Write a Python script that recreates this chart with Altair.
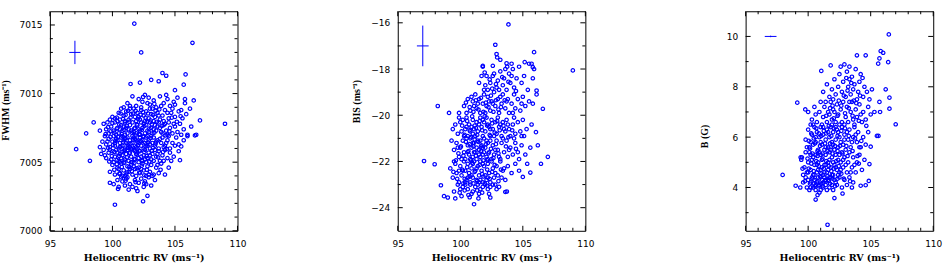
import altair as alt
import pandas as pd

# ---------------------------------------------------------------------------
# Heliocentric RV against FWHM, bisector span (BIS) and magnetic field B
# ---------------------------------------------------------------------------

# (RV, FWHM) pairs, m/s
rv_fwhm = [
    (101.75, 7015.1), (102.3, 7013.0), (106.4, 7013.7), (109.0, 7007.8), (97.1, 7005.95),
    (97.9, 7007.1), (98.2, 7005.1), (100.2, 7001.9), (102.45, 7002.15), (102.8, 7002.55),
    (107.0, 7008.05), (105.85, 7011.4), (104.0, 7011.5), (104.3, 7011.3), (103.1, 7011.0),
    (103.7, 7010.9), (102.2, 7010.8), (101.45, 7010.7), (105.0, 7010.25), (105.7, 7010.65),
    (105.4, 7005.15), (106.6, 7006.95), (106.7, 7007.0), (105.5, 7006.15), (105.8, 7009.3),
    (101.2, 7009.3), (101.6, 7009.8), (101.9, 7009.1), (102.1, 7009.6), (102.4, 7009.4),
    (102.6, 7009.9), (102.9, 7009.7), (103.0, 7009.2), (103.3, 7009.5), (103.5, 7009.0),
    (103.8, 7009.8), (104.1, 7009.3), (104.4, 7009.6), (104.6, 7009.1), (104.9, 7009.4),
    (105.2, 7009.7), (105.8, 7009.6), (106.5, 7009.5), (100.9, 7009.0), (101.4, 7009.1),
    (102.8, 7009.3), (103.9, 7009.1), (104.3, 7009.9), (105.0, 7009.2), (102.3, 7009.0),
    (100.2, 7008.2), (100.5, 7008.6), (100.7, 7008.9), (100.9, 7008.4), (101.1, 7008.7),
    (101.3, 7008.1), (101.5, 7008.5), (101.7, 7008.9), (101.8, 7008.3), (102.0, 7008.6),
    (102.2, 7008.1), (102.3, 7008.8), (102.5, 7008.4), (102.7, 7008.7), (102.9, 7008.2),
    (103.1, 7008.5), (103.2, 7008.9), (103.4, 7008.3), (103.6, 7008.6), (103.8, 7008.1),
    (104.0, 7008.4), (104.2, 7008.8), (104.5, 7008.2), (104.7, 7008.6), (105.0, 7008.3),
    (105.3, 7008.7), (105.6, 7008.2), (105.9, 7008.5), (106.2, 7008.9), (100.4, 7008.0),
    (100.0, 7008.3), (101.0, 7008.0), (101.9, 7008.0), (102.6, 7008.0), (103.3, 7008.0),
    (104.1, 7008.0), (104.8, 7008.9), (99.8, 7008.1), (105.5, 7008.8), (103.0, 7008.9),
    (101.4, 7008.9), (102.1, 7008.3), (103.7, 7008.4), (104.4, 7008.6), (100.6, 7008.1),
    (98.5, 7007.9), (99.3, 7007.8), (99.5, 7007.4), (99.7, 7007.1), (99.9, 7007.6),
    (100.1, 7007.3), (100.2, 7007.9), (100.4, 7007.5), (100.5, 7007.1), (100.7, 7007.7),
    (100.8, 7007.3), (101.0, 7007.9), (101.1, 7007.5), (101.2, 7007.1), (101.4, 7007.7),
    (101.5, 7007.3), (101.6, 7007.9), (101.8, 7007.5), (101.9, 7007.1), (102.0, 7007.7),
    (102.2, 7007.3), (102.3, 7007.9), (102.4, 7007.5), (102.6, 7007.1), (102.7, 7007.7),
    (102.8, 7007.3), (103.0, 7007.9), (103.1, 7007.5), (103.2, 7007.1), (103.4, 7007.7),
    (103.5, 7007.3), (103.7, 7007.9), (103.8, 7007.5), (104.0, 7007.1), (104.1, 7007.7),
    (104.3, 7007.3), (104.5, 7007.9), (104.6, 7007.5), (104.8, 7007.1), (105.0, 7007.6),
    (105.2, 7007.2), (105.4, 7007.8), (105.7, 7007.4), (106.0, 7007.0), (106.3, 7007.6),
    (100.3, 7007.0), (100.9, 7007.6), (101.3, 7007.4), (101.7, 7007.2), (102.1, 7007.4),
    (102.5, 7007.8), (102.9, 7007.2), (103.3, 7007.4), (103.6, 7007.6), (103.9, 7007.2),
    (104.2, 7007.8), (104.4, 7007.0), (104.9, 7007.8), (105.5, 7007.0), (99.0, 7007.3),
    (99.6, 7007.9), (100.6, 7007.4), (101.0, 7007.0), (102.2, 7007.0),
    (99.0, 7006.1), (99.2, 7006.5), (99.4, 7006.9), (99.5, 7006.3), (99.7, 7006.7),
    (99.8, 7006.1), (100.0, 7006.5), (100.1, 7006.9), (100.2, 7006.2), (100.4, 7006.6),
    (100.5, 7006.0), (100.6, 7006.4), (100.7, 7006.8), (100.8, 7006.2), (100.9, 7006.6),
    (101.0, 7006.0), (101.1, 7006.4), (101.2, 7006.8), (101.3, 7006.2), (101.4, 7006.6),
    (101.5, 7006.0), (101.6, 7006.4), (101.7, 7006.8), (101.8, 7006.2), (101.9, 7006.6),
    (102.0, 7006.0), (102.1, 7006.4), (102.2, 7006.8), (102.3, 7006.2), (102.4, 7006.6),
    (102.5, 7006.0), (102.6, 7006.4), (102.7, 7006.8), (102.8, 7006.2), (102.9, 7006.6),
    (103.0, 7006.0), (103.2, 7006.4), (103.3, 7006.8), (103.4, 7006.2), (103.6, 7006.6),
    (103.7, 7006.0), (103.9, 7006.4), (104.0, 7006.8), (104.2, 7006.2), (104.4, 7006.6),
    (104.6, 7006.0), (104.8, 7006.4), (105.1, 7006.8), (105.3, 7006.3), (105.7, 7006.6),
    (106.0, 7006.9), (100.3, 7006.7), (100.8, 7006.9), (101.2, 7006.3), (101.6, 7006.9),
    (101.9, 7006.1), (102.3, 7006.5), (102.7, 7006.3), (103.1, 7006.9), (103.5, 7006.5),
    (104.1, 7006.1), (104.5, 7006.9), (99.6, 7006.5), (100.6, 7006.1), (101.4, 7006.1),
    (102.0, 7006.5), (102.8, 7006.9), (103.8, 7006.7), (101.0, 7006.7), (101.8, 7006.7),
    (102.5, 7006.9), (100.2, 7006.4), (103.0, 7006.3), (104.3, 7006.4), (105.0, 7006.2),
    (99.1, 7005.6), (99.3, 7005.9), (99.5, 7005.3), (99.7, 7005.7), (99.9, 7005.2),
    (100.0, 7005.8), (100.2, 7005.4), (100.3, 7005.9), (100.5, 7005.1), (100.6, 7005.6),
    (100.7, 7005.3), (100.9, 7005.8), (101.0, 7005.2), (101.1, 7005.6), (101.3, 7005.1),
    (101.4, 7005.7), (101.5, 7005.4), (101.7, 7005.9), (101.8, 7005.2), (101.9, 7005.6),
    (102.1, 7005.3), (102.2, 7005.8), (102.4, 7005.1), (102.5, 7005.5), (102.6, 7005.9),
    (102.8, 7005.3), (102.9, 7005.7), (103.1, 7005.2), (103.2, 7005.6), (103.4, 7005.9),
    (103.5, 7005.4), (103.7, 7005.8), (103.8, 7005.1), (104.0, 7005.5), (104.2, 7005.9),
    (104.4, 7005.3), (104.6, 7005.7), (104.9, 7005.4), (105.3, 7005.8), (100.1, 7005.0),
    (100.8, 7005.5), (101.2, 7005.9), (101.6, 7005.0), (102.0, 7005.7), (102.3, 7005.4),
    (102.7, 7005.0), (103.0, 7005.5), (103.3, 7005.1), (103.6, 7005.6), (104.1, 7005.1),
    (99.4, 7005.5), (99.8, 7005.9), (100.4, 7005.7), (101.0, 7005.9), (101.8, 7005.8),
    (102.6, 7005.2), (101.5, 7005.0), (100.6, 7005.0), (104.7, 7005.1), (102.1, 7005.0),
    (99.8, 7004.3), (100.0, 7004.8), (100.2, 7004.1), (100.4, 7004.6), (100.6, 7004.2),
    (100.7, 7004.9), (100.9, 7004.4), (101.0, 7004.0), (101.2, 7004.7), (101.3, 7004.3),
    (101.5, 7004.8), (101.6, 7004.1), (101.8, 7004.5), (101.9, 7004.0), (102.1, 7004.6),
    (102.2, 7004.2), (102.4, 7004.9), (102.5, 7004.4), (102.7, 7004.0), (102.8, 7004.7),
    (103.0, 7004.3), (103.1, 7004.8), (103.3, 7004.1), (103.5, 7004.6), (103.7, 7004.2),
    (103.9, 7004.9), (104.2, 7004.1), (104.5, 7004.6), (100.5, 7004.5), (101.1, 7004.1),
    (101.7, 7004.7), (102.3, 7004.5), (102.9, 7004.1), (103.6, 7004.8), (100.8, 7004.0),
    (101.4, 7004.5),
    (99.8, 7003.5), (100.1, 7003.4), (100.4, 7003.7), (100.5, 7003.2), (100.8, 7003.6),
    (101.0, 7003.3), (101.2, 7003.9), (101.4, 7003.4), (101.6, 7003.2), (101.8, 7003.7),
    (101.9, 7003.1), (102.1, 7003.5), (102.3, 7003.8), (102.5, 7003.2), (102.6, 7003.6),
    (102.9, 7003.9), (103.1, 7003.3), (103.4, 7003.7), (101.1, 7003.8), (100.7, 7003.9),
    (102.7, 7003.4), (103.2, 7004.0), (102.0, 7002.9), (101.3, 7003.0),
    (100.15, 7007.15), (100.35, 7007.45), (100.55, 7007.75), (100.75, 7007.05), (100.95, 7007.35),
    (101.15, 7007.65), (101.35, 7007.95), (101.55, 7007.15), (101.75, 7007.45), (101.95, 7007.75),
    (102.15, 7007.05), (102.35, 7007.35), (102.55, 7007.65), (102.75, 7007.95), (102.95, 7007.45),
    (103.15, 7007.75), (103.35, 7007.15), (103.55, 7007.95), (100.05, 7006.25), (100.25, 7006.55),
    (100.45, 7006.85), (100.65, 7006.15), (100.85, 7006.45), (101.05, 7006.75), (101.25, 7006.05),
    (101.45, 7006.35), (101.65, 7006.65), (101.85, 7006.95), (102.05, 7006.25), (102.25, 7006.55),
    (102.45, 7006.85), (102.65, 7006.15), (102.85, 7006.45), (103.05, 7006.75), (103.25, 7006.05),
    (103.45, 7006.35), (99.85, 7006.85), (99.65, 7006.05), (99.95, 7005.45), (100.15, 7005.75),
    (100.35, 7005.15), (100.55, 7005.45), (100.75, 7005.75), (100.95, 7005.05), (101.15, 7005.35),
    (101.35, 7005.65), (101.55, 7005.95), (101.75, 7005.25), (101.95, 7005.55), (102.15, 7005.85),
    (102.35, 7005.15), (102.55, 7005.75), (102.75, 7005.45), (102.95, 7005.05), (103.15, 7005.85),
    (99.75, 7005.05), (100.15, 7004.45), (100.35, 7004.85), (100.55, 7004.15), (100.75, 7004.65),
    (100.95, 7004.95), (101.15, 7004.25), (101.35, 7004.65), (101.55, 7004.35), (101.75, 7004.95),
    (101.95, 7004.55), (102.15, 7004.25), (102.35, 7004.75), (102.55, 7004.05), (102.75, 7004.45),
    (100.35, 7008.25), (100.65, 7008.55), (100.85, 7008.15), (101.05, 7008.45), (101.25, 7008.75),
    (101.45, 7008.25), (101.65, 7008.55), (101.85, 7008.75), (102.05, 7008.15), (102.25, 7008.45),
    (102.45, 7008.65), (102.65, 7008.25), (102.85, 7008.55), (103.05, 7008.05), (103.25, 7008.45),
    (103.45, 7008.75), (103.75, 7008.85), (99.45, 7007.05), (99.65, 7007.55), (99.85, 7007.25),
    (100.0, 7007.85), (104.25, 7006.95), (104.55, 7007.25), (104.05, 7005.75), (104.35, 7005.95),
    (103.65, 7005.35), (103.85, 7004.45), (102.55, 7003.45), (101.85, 7003.55), (101.05, 7003.65),
    (100.45, 7003.05), (103.95, 7007.65), (104.75, 7008.25), (105.15, 7007.95), (105.45, 7008.35),
    (103.35, 7009.25), (102.45, 7009.75),
]

# (RV, BIS) pairs, m/s
rv_bis = [
    (103.85, -16.07), (102.8, -16.95), (102.9, -17.35), (102.95, -17.5), (105.9, -17.27),
    (109.0, -18.06), (98.2, -19.6), (99.1, -19.9), (97.1, -21.98), (97.95, -22.12),
    (98.45, -23.03), (101.1, -23.85), (101.45, -23.6), (100.75, -23.55), (102.4, -23.56),
    (103.6, -23.32), (103.72, -23.3), (98.7, -23.5), (99.0, -23.56), (107.0, -21.8),
    (106.45, -22.1), (106.05, -20.73), (106.6, -19.72), (105.6, -22.48), (105.0, -22.67),
    (105.35, -22.1), (106.1, -18.93), (105.15, -17.7), (105.5, -17.77), (105.7, -17.77),
    (105.8, -17.92), (103.7, -17.75), (103.75, -17.9), (104.1, -17.77), (102.6, -17.86),
    (103.2, -17.6), (101.8, -17.86),
    (101.8, -17.9), (102.1, -18.3), (102.4, -18.6), (102.7, -18.2), (102.9, -18.8),
    (103.0, -18.5), (103.2, -18.1), (103.4, -18.7), (103.5, -18.4), (103.7, -18.9),
    (103.9, -18.2), (104.0, -18.6), (104.2, -18.0), (104.3, -18.8), (104.5, -18.4),
    (104.7, -17.9), (104.9, -18.6), (105.1, -18.3), (105.4, -18.9), (105.8, -18.4),
    (101.5, -18.6), (101.9, -18.9), (102.2, -18.9), (103.6, -18.0), (102.6, -18.3),
    (105.9, -18.0), (104.1, -18.3), (103.1, -18.9), (101.7, -18.3), (102.0, -18.7),
    (100.3, -19.6), (100.6, -19.3), (100.8, -19.8), (101.0, -19.4), (101.2, -19.1),
    (101.3, -19.7), (101.5, -19.3), (101.6, -19.9), (101.8, -19.5), (101.9, -19.1),
    (102.1, -19.6), (102.2, -19.2), (102.4, -19.8), (102.5, -19.4), (102.7, -19.0),
    (102.8, -19.6), (103.0, -19.3), (103.1, -19.9), (103.3, -19.5), (103.4, -19.1),
    (103.6, -19.7), (103.8, -19.3), (103.9, -19.9), (104.1, -19.5), (104.3, -19.1),
    (104.4, -19.7), (104.6, -19.3), (104.8, -19.8), (105.0, -19.2), (105.2, -19.6),
    (105.5, -19.4), (105.8, -19.5), (106.1, -19.1), (99.9, -19.9), (100.9, -19.2),
    (101.4, -19.5), (102.0, -19.9), (102.6, -19.5), (103.2, -19.2), (103.7, -19.4),
    (104.2, -19.9), (104.9, -19.5), (100.5, -19.9), (101.1, -19.6), (102.3, -19.4),
    (99.6, -20.4), (99.8, -20.8), (100.0, -20.3), (100.1, -20.7), (100.2, -20.2),
    (100.4, -20.6), (100.5, -20.1), (100.6, -20.9), (100.7, -20.4), (100.8, -20.7),
    (101.0, -20.2), (101.1, -20.6), (101.2, -20.9), (101.3, -20.3), (101.4, -20.7),
    (101.6, -20.1), (101.7, -20.5), (101.8, -20.9), (101.9, -20.3), (102.0, -20.7),
    (102.1, -20.1), (102.3, -20.5), (102.4, -20.9), (102.5, -20.2), (102.6, -20.6),
    (102.8, -20.3), (102.9, -20.8), (103.0, -20.1), (103.1, -20.5), (103.3, -20.9),
    (103.4, -20.3), (103.6, -20.7), (103.7, -20.2), (103.9, -20.6), (104.0, -20.9),
    (104.2, -20.4), (104.4, -20.8), (104.6, -20.3), (104.8, -20.7), (105.0, -20.2),
    (105.3, -20.6), (105.7, -20.4), (99.4, -20.6), (99.9, -20.1), (100.3, -20.9),
    (100.9, -20.5), (101.5, -20.4), (102.2, -20.4), (102.7, -20.9), (103.2, -20.4),
    (103.8, -20.4), (104.3, -20.1), (104.9, -20.9), (100.5, -20.5), (101.0, -20.8),
    (101.8, -20.2), (102.4, -20.6), (103.5, -20.6), (105.1, -20.9),
    (99.3, -21.1), (99.5, -21.5), (99.7, -21.2), (99.9, -21.8), (100.0, -21.4),
    (100.2, -21.1), (100.3, -21.6), (100.4, -21.9), (100.6, -21.3), (100.7, -21.7),
    (100.8, -21.0), (100.9, -21.4), (101.0, -21.8), (101.1, -21.2), (101.2, -21.6),
    (101.3, -21.9), (101.4, -21.1), (101.5, -21.5), (101.6, -21.8), (101.7, -21.3),
    (101.8, -21.7), (101.9, -21.0), (102.0, -21.4), (102.1, -21.8), (102.2, -21.2),
    (102.3, -21.6), (102.5, -21.9), (102.6, -21.3), (102.7, -21.7), (102.9, -21.1),
    (103.0, -21.5), (103.2, -21.9), (103.3, -21.2), (103.5, -21.6), (103.7, -21.1),
    (103.8, -21.8), (104.0, -21.4), (104.2, -21.7), (104.4, -21.2), (104.6, -21.6),
    (104.9, -21.3), (105.2, -21.7), (105.6, -21.4), (106.2, -21.3), (100.1, -21.9),
    (100.5, -21.0), (100.8, -21.9), (101.0, -21.2), (101.3, -21.4), (101.6, -21.1),
    (101.9, -21.6), (102.2, -21.9), (102.4, -21.1), (102.8, -21.5), (103.1, -21.8),
    (103.4, -21.0), (103.9, -21.5), (104.3, -21.0), (104.7, -21.9), (101.1, -21.6),
    (101.5, -21.7), (100.6, -21.6), (101.8, -21.4), (102.1, -21.1), (99.8, -21.4),
    (99.2, -22.3), (99.4, -22.7), (99.6, -22.1), (99.7, -22.5), (99.9, -22.9),
    (100.0, -22.2), (100.1, -22.6), (100.3, -22.0), (100.4, -22.4), (100.5, -22.8),
    (100.6, -22.1), (100.7, -22.5), (100.8, -22.9), (100.9, -22.3), (101.0, -22.7),
    (101.1, -22.0), (101.2, -22.4), (101.3, -22.8), (101.4, -22.2), (101.5, -22.6),
    (101.6, -22.0), (101.7, -22.4), (101.8, -22.9), (101.9, -22.2), (102.0, -22.6),
    (102.2, -22.1), (102.3, -22.5), (102.4, -22.9), (102.6, -22.3), (102.7, -22.7),
    (102.9, -22.2), (103.0, -22.6), (103.2, -22.0), (103.4, -22.4), (103.6, -22.8),
    (103.8, -22.2), (104.1, -22.5), (104.4, -22.1), (104.7, -22.4), (99.5, -22.0),
    (100.2, -22.4), (100.6, -22.7), (101.0, -22.1), (101.3, -22.3), (101.6, -22.8),
    (102.1, -22.8), (102.5, -22.0), (102.8, -22.5), (103.3, -22.7), (100.9, -22.6),
    (101.5, -22.9), (100.4, -22.9), (101.8, -22.1), (102.2, -22.7), (99.9, -22.4),
    (103.5, -22.3),
    (99.5, -23.3), (99.8, -23.0), (100.0, -23.2), (100.2, -23.1), (100.4, -23.0),
    (100.6, -23.2), (100.8, -23.0), (101.0, -23.3), (101.2, -23.1), (101.4, -23.0),
    (101.6, -23.2), (101.8, -23.1), (102.0, -23.0), (102.2, -23.2), (102.4, -23.1),
    (102.6, -23.0), (102.9, -23.2), (103.1, -23.1), (99.6, -23.6), (100.9, -23.4),
    (101.5, -23.4), (102.3, -23.4), (100.1, -23.5), (102.8, -23.0),
    (100.15, -22.35), (100.35, -22.75), (100.55, -22.25), (100.75, -22.65), (100.95, -22.05),
    (101.15, -22.45), (101.35, -22.85), (101.55, -22.15), (101.75, -22.55), (101.95, -22.95),
    (102.15, -22.35), (102.35, -22.75), (102.55, -22.45), (100.25, -22.95), (101.05, -22.95),
    (101.85, -22.65), (100.05, -21.35), (100.25, -21.75), (100.45, -21.15), (100.65, -21.55),
    (100.85, -21.95), (101.05, -21.35), (101.25, -21.75), (101.45, -21.15), (101.65, -21.55),
    (101.85, -21.95), (102.05, -21.25), (102.25, -21.65), (102.45, -21.45), (102.65, -21.85),
    (102.85, -21.25), (103.05, -21.65), (101.15, -21.05), (100.75, -21.25), (100.15, -20.45),
    (100.35, -20.85), (100.55, -20.25), (100.75, -20.65), (100.95, -20.05), (101.15, -20.45),
    (101.35, -20.85), (101.55, -20.25), (101.75, -20.65), (101.95, -20.05), (102.15, -20.45),
    (102.35, -20.85), (102.55, -20.35), (102.75, -20.75), (102.95, -20.25), (103.15, -20.65),
    (103.45, -20.45), (100.45, -19.45), (100.75, -19.65), (101.05, -19.85), (101.25, -19.35),
    (101.45, -19.75), (101.65, -19.25), (101.85, -19.85), (102.05, -19.45), (102.25, -19.65),
    (102.45, -19.15), (102.65, -19.85), (102.85, -19.35), (103.05, -19.75), (103.25, -19.65),
    (103.55, -19.35), (99.75, -22.75), (99.85, -21.65), (99.65, -21.95), (99.45, -22.45),
    (99.95, -23.35), (100.35, -23.25), (100.65, -23.45), (101.35, -23.25), (101.75, -23.35),
    (102.15, -23.05), (103.25, -22.35), (103.65, -21.35), (103.85, -20.95), (104.15, -20.65),
    (104.45, -21.45), (102.75, -22.15), (103.05, -22.85), (101.25, -20.55), (100.85, -20.95),
    (101.65, -21.35), (102.15, -21.95), (102.35, -18.45), (102.85, -18.65), (103.35, -18.35),
    (103.85, -18.55), (101.95, -18.15), (104.45, -18.95), (102.55, -18.85),
]

# (RV, B) pairs, m/s and gauss
rv_bfield = [
    (106.45, 10.08), (105.8, 9.42), (106.0, 9.35), (104.6, 9.25), (106.4, 8.98),
    (105.7, 9.13), (105.6, 8.92), (107.0, 6.51), (106.5, 7.57), (106.5, 7.13),
    (106.2, 7.9), (105.7, 7.4), (105.75, 7.0), (105.5, 6.05), (105.62, 6.05),
    (104.9, 4.93), (105.0, 5.62), (104.85, 4.26), (104.6, 4.09), (104.2, 4.07),
    (97.96, 4.5), (99.0, 4.07), (99.37, 4.0), (99.4, 5.2), (99.45, 5.1),
    (99.13, 7.37), (99.77, 7.1), (101.05, 8.63), (101.8, 8.85), (102.9, 8.89),
    (103.9, 9.25), (101.55, 2.52), (102.1, 3.58), (100.6, 3.52), (100.75, 3.7),
    (102.75, 3.76), (103.5, 4.0),
    (101.5, 8.1), (101.7, 7.6), (101.9, 7.9), (102.1, 8.3), (102.2, 7.7),
    (102.4, 8.0), (102.5, 8.5), (102.7, 7.8), (102.8, 8.2), (103.0, 7.6),
    (103.1, 8.6), (103.2, 8.0), (103.3, 8.3), (103.4, 7.7), (103.5, 8.4),
    (103.6, 7.9), (103.7, 8.1), (103.8, 8.7), (104.0, 7.8), (104.1, 8.2),
    (104.2, 8.5), (104.4, 7.6), (104.5, 8.0), (104.7, 7.8), (104.9, 7.5),
    (105.1, 7.9), (102.0, 7.5), (103.9, 7.5), (101.2, 7.8), (102.6, 8.8),
    (103.3, 8.8),
    (100.0, 7.0), (100.3, 6.7), (100.5, 7.2), (100.7, 6.6), (100.9, 7.0),
    (101.0, 7.4), (101.2, 6.8), (101.3, 7.2), (101.5, 6.6), (101.6, 7.0),
    (101.8, 7.4), (101.9, 6.7), (102.0, 7.1), (102.2, 6.6), (102.3, 7.3),
    (102.4, 6.9), (102.6, 7.1), (102.7, 6.6), (102.8, 7.4), (103.0, 6.8),
    (103.1, 7.2), (103.2, 6.6), (103.4, 7.0), (103.5, 7.4), (103.6, 6.7),
    (103.8, 7.1), (103.9, 6.8), (104.1, 7.3), (104.3, 6.6), (104.4, 7.0),
    (104.6, 6.7), (104.8, 7.2), (105.0, 6.9), (105.3, 7.0), (100.2, 6.5),
    (101.1, 6.5), (101.7, 6.9), (102.5, 6.5), (103.3, 7.4), (103.7, 6.5),
    (104.2, 6.9), (100.6, 6.9), (101.4, 7.4), (102.1, 7.0), (102.9, 6.5),
    (99.8, 5.9), (100.0, 6.3), (100.1, 5.6), (100.3, 6.1), (100.4, 5.7),
    (100.5, 6.4), (100.6, 5.8), (100.7, 6.2), (100.8, 5.5), (100.9, 6.0),
    (101.0, 6.4), (101.1, 5.7), (101.2, 6.1), (101.3, 5.5), (101.4, 5.9),
    (101.5, 6.3), (101.6, 5.6), (101.7, 6.0), (101.8, 6.4), (101.9, 5.8),
    (102.0, 6.2), (102.1, 5.5), (102.2, 5.9), (102.3, 6.3), (102.4, 5.6),
    (102.5, 6.0), (102.7, 6.4), (102.8, 5.7), (102.9, 6.1), (103.0, 5.5),
    (103.2, 5.9), (103.3, 6.3), (103.4, 5.6), (103.6, 6.0), (103.7, 6.4),
    (103.9, 5.8), (104.0, 6.2), (104.2, 5.6), (104.4, 6.0), (104.6, 5.7),
    (104.8, 6.2), (100.2, 5.8), (100.6, 6.0), (101.0, 5.8), (101.4, 5.6),
    (101.8, 5.6), (102.2, 6.4), (102.6, 5.8), (103.1, 6.2), (103.5, 5.8),
    (104.1, 5.6), (99.9, 5.6), (101.2, 6.4), (101.6, 6.2), (102.0, 5.7),
    (102.4, 6.2), (102.9, 5.9), (103.8, 6.1), (101.9, 6.5), (100.4, 6.5),
    (99.5, 5.2), (99.7, 4.8), (99.8, 5.4), (99.9, 4.6), (100.0, 5.0),
    (100.1, 5.4), (100.2, 4.7), (100.3, 5.1), (100.4, 4.5), (100.5, 4.9),
    (100.6, 5.3), (100.7, 4.6), (100.8, 5.0), (100.9, 5.4), (101.0, 4.7),
    (101.1, 5.1), (101.2, 4.5), (101.3, 4.9), (101.4, 5.3), (101.5, 4.6),
    (101.6, 5.0), (101.7, 5.4), (101.8, 4.8), (101.9, 5.2), (102.0, 4.5),
    (102.1, 4.9), (102.2, 5.3), (102.3, 4.7), (102.4, 5.1), (102.5, 4.6),
    (102.6, 5.0), (102.7, 5.4), (102.8, 4.8), (102.9, 5.2), (103.1, 4.6),
    (103.2, 5.0), (103.3, 5.4), (103.5, 4.8), (103.6, 5.2), (103.8, 4.6),
    (103.9, 5.0), (104.1, 5.3), (104.3, 4.7), (104.5, 5.1), (100.0, 4.6),
    (100.4, 5.2), (100.7, 4.9), (101.0, 5.3), (101.3, 4.6), (101.6, 4.7),
    (101.9, 4.5), (102.2, 4.8), (102.5, 5.3), (102.8, 5.1), (103.0, 4.9),
    (103.4, 4.6), (103.7, 4.9), (100.5, 4.5), (101.1, 4.8), (101.7, 5.1),
    (102.0, 5.0), (102.4, 4.5), (100.2, 5.3), (100.8, 4.7), (101.4, 4.9),
    (101.8, 5.5), (102.6, 4.7), (99.6, 4.5),
    (99.6, 4.2), (99.8, 4.4), (99.9, 4.0), (100.0, 4.3), (100.1, 3.9),
    (100.2, 4.2), (100.3, 4.4), (100.4, 4.0), (100.5, 4.3), (100.6, 3.9),
    (100.7, 4.2), (100.8, 4.4), (100.9, 4.1), (101.0, 3.9), (101.1, 4.3),
    (101.2, 4.0), (101.3, 4.4), (101.4, 4.1), (101.5, 3.9), (101.6, 4.3),
    (101.7, 4.0), (101.8, 4.4), (101.9, 4.1), (102.0, 3.9), (102.1, 4.3),
    (102.3, 4.1), (102.5, 4.4), (102.7, 4.0), (102.9, 4.3), (103.1, 4.1),
    (103.3, 4.4), (103.6, 4.2), (100.2, 4.0), (100.6, 4.1), (101.0, 4.4),
    (101.4, 4.3), (101.7, 4.4), (102.2, 4.2), (101.2, 4.2), (100.9, 3.8),
    (100.15, 4.15), (100.35, 4.35), (100.55, 4.05), (100.75, 4.25), (100.95, 4.45),
    (101.15, 4.05), (101.35, 4.25), (101.55, 4.45), (101.75, 4.15), (101.95, 4.35),
    (102.15, 4.05), (102.35, 4.35), (100.45, 4.15), (101.05, 4.15), (101.65, 4.25),
    (100.85, 4.05), (100.05, 4.75), (100.25, 4.95), (100.45, 4.65), (100.65, 5.05),
    (100.85, 4.85), (101.05, 4.55), (101.25, 4.75), (101.45, 5.05), (101.65, 4.85),
    (101.85, 4.65), (102.05, 4.75), (102.25, 5.05), (102.45, 4.85), (102.65, 4.55),
    (101.15, 5.15), (100.75, 5.25), (100.15, 5.55), (100.35, 5.35), (100.55, 5.75),
    (100.75, 5.45), (100.95, 5.65), (101.15, 5.35), (101.35, 5.75), (101.55, 5.45),
    (101.75, 5.75), (101.95, 5.35), (102.15, 5.65), (102.35, 5.45), (102.55, 5.65),
    (102.75, 5.35), (103.05, 5.65), (100.25, 6.15), (100.45, 5.95), (100.65, 6.35),
    (100.85, 6.15), (101.05, 6.05), (101.25, 6.25), (101.45, 6.15), (101.65, 6.45),
    (101.85, 6.05), (102.05, 6.35), (102.35, 6.05), (102.65, 6.25), (102.95, 6.35),
    (103.25, 6.05), (101.45, 6.85), (101.75, 7.15), (102.05, 6.75), (102.35, 6.85),
    (102.65, 7.25), (102.95, 6.95), (103.25, 7.15), (103.55, 6.85), (103.85, 7.35),
    (104.05, 6.65), (102.85, 7.65), (103.15, 7.85), (103.45, 8.15), (103.65, 7.45),
    (104.15, 7.65), (104.35, 8.35), (103.05, 8.35), (102.45, 7.45), (101.95, 7.25),
    (103.35, 4.25), (103.55, 5.45), (103.95, 5.25), (104.25, 5.85), (103.75, 5.95),
    (102.85, 4.35), (99.75, 4.25), (99.95, 5.15), (99.55, 4.75), (100.05, 5.85),
    (104.65, 6.45), (104.05, 4.95), (103.15, 5.25),
]

# typical error bars: (x centre, x half-width, y centre, y half-height)
err_fwhm = (97.0, 0.45, 7013.0, 0.85)
err_bis = (97.0, 0.47, -17.0, 0.88)
err_bfield = (97.0, 0.47, 10.0, 0.03)

# axis ranges and tick values
rv_domain = [95, 110]
rv_major = [95, 100, 105, 110]
rv_minor = [96, 97, 98, 99, 101, 102, 103, 104, 106, 107, 108, 109]

fwhm_domain = [7000, 7016]
fwhm_major = [7000, 7005, 7010, 7015]
fwhm_minor = [7001, 7002, 7003, 7004, 7006, 7007, 7008, 7009, 7011, 7012, 7013, 7014]

bis_domain = [-25, -15.5]
bis_major = [-24, -22, -20, -18, -16]
bis_minor = [-23, -21, -19, -17]

bfield_domain = [2.28, 11]
bfield_major = [4, 6, 8, 10]
bfield_minor = [3, 5, 7, 9]

W, H = 188, 220
BLUE = "#0000ff"
RV_TITLE = "Heliocentric RV (ms⁻¹)"


def panel(pairs, ydomain, ymaj, ymin, ytitle, err, title_x, title_y):
    xs = alt.Scale(domain=rv_domain, nice=False, zero=False)
    ys = alt.Scale(domain=ydomain, nice=False, zero=False)
    # the same axis definition is attached to every layer so they merge cleanly
    xa = alt.Axis(title=RV_TITLE, values=rv_major, labelFlush=False)
    ya = alt.Axis(title=ytitle, values=ymaj, format="d", titleX=title_x, titleY=title_y)

    def X(field):
        return alt.X(field, type="quantitative", scale=xs, axis=xa)

    def Y(field):
        return alt.Y(field, type="quantitative", scale=ys, axis=ya)

    df = pd.DataFrame(pairs, columns=["rv", "val"])
    points = alt.Chart(df).mark_point(
        shape="circle", filled=False, size=12, strokeWidth=1.2,
        color=BLUE, opacity=1, clip=True,
    ).encode(x=X("rv"), y=Y("val"))

    cx, hx, cy, hy = err
    edf = pd.DataFrame({"rv": [cx], "lo_x": [cx - hx], "hi_x": [cx + hx],
                        "val": [cy], "lo_y": [cy - hy], "hi_y": [cy + hy]})
    err_h = alt.Chart(edf).mark_rule(color=BLUE, strokeWidth=1).encode(
        x=X("lo_x"), x2="hi_x:Q", y=Y("val"))
    err_v = alt.Chart(edf).mark_rule(color=BLUE, strokeWidth=1).encode(
        x=X("rv"), y=Y("lo_y"), y2="hi_y:Q")

    # inward-pointing major/minor ticks on all four sides of the frame
    ticks = []
    for vals, ln in ((rv_major, 5), (rv_minor, 3)):
        base = alt.Chart(pd.DataFrame({"rv": vals})).mark_rule(color="black", strokeWidth=1)
        ticks.append(base.encode(x=X("rv"), y=alt.value(H), y2=alt.value(H - ln)))
        ticks.append(base.encode(x=X("rv"), y=alt.value(0), y2=alt.value(ln)))
    for vals, ln in ((ymaj, 5), (ymin, 3)):
        base = alt.Chart(pd.DataFrame({"val": vals})).mark_rule(color="black", strokeWidth=1)
        ticks.append(base.encode(y=Y("val"), x=alt.value(0), x2=alt.value(ln)))
        ticks.append(base.encode(y=Y("val"), x=alt.value(W), x2=alt.value(W - ln)))

    return alt.layer(points, err_h, err_v, *ticks).properties(width=W, height=H)


p_fwhm = panel(rv_fwhm, fwhm_domain, fwhm_major, fwhm_minor, "FWHM (ms⁻¹)",
               err_fwhm, -39, 99)
p_bis = panel(rv_bis, bis_domain, bis_major, bis_minor, "BIS (ms⁻¹)",
              err_bis, -36, 90)
p_bfield = panel(rv_bfield, bfield_domain, bfield_major, bfield_minor, "B (G)",
                 err_bfield, -36, 125)

chart = (
    alt.hconcat(p_fwhm, p_bis, p_bfield, spacing=160.6, bounds="flush")
    .properties(padding={"left": 0, "top": 10, "right": 0, "bottom": 0})
    .configure_view(stroke="black", strokeWidth=1)
    .configure_axis(
        domain=False, ticks=False, tickSize=0, grid=False,
        labelFont="DejaVu Sans", labelFontSize=9, labelColor="black",
        titleColor="black", titleFontWeight="bold",
    )
    .configure_axisX(labelPadding=9, titlePadding=4,
                     titleFont="DejaVu Serif", titleFontSize=9.5)
    .configure_axisY(labelPadding=8, titleFont="Liberation Serif", titleFontSize=10)
)

chart.save("out.html", embed_options={"renderer": "svg", "actions": False})
